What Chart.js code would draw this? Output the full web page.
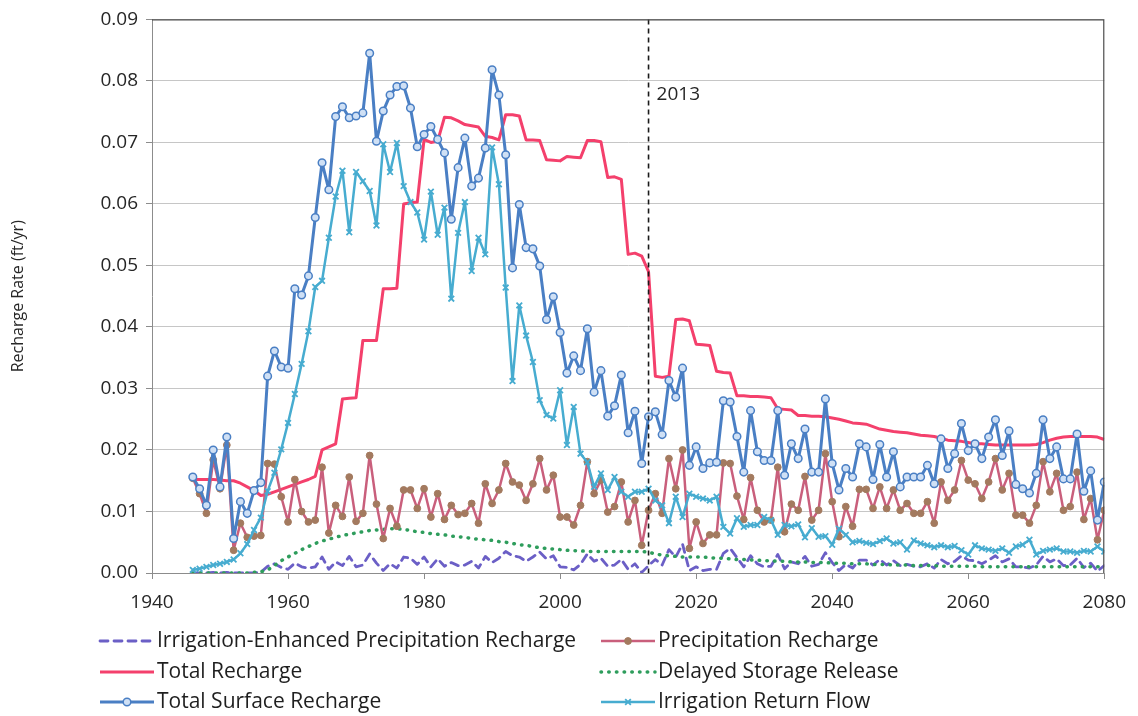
<!DOCTYPE html>
<html>
<head>
<meta charset="utf-8">
<script src="https://cdn.jsdelivr.net/npm/chart.js@4.4.1/dist/chart.umd.min.js"></script>
<style>
  html, body { margin: 0; padding: 0; background: #fff; }
</style>
</head>
<body>
<canvas id="myChart" width="1138" height="716"></canvas>
<script>
// years 1946 - 2080, one value per year (ft/yr)
var firstYear = 1946;
var lastYear = 2080;
var years = [];
for (var yr = firstYear; yr <= lastYear; yr++) years.push(yr);

var xTickValues = [1940, 1960, 1980, 2000, 2020, 2040, 2060, 2080];
var yTickValues = [0, 0.01, 0.02, 0.03, 0.04, 0.05, 0.06, 0.07, 0.08, 0.09];
var markYear = 2013;

var seriesNames = [
  'Irrigation-Enhanced Precipitation Recharge',
  'Precipitation Recharge',
  'Total Recharge',
  'Delayed Storage Release',
  'Total Surface Recharge',
  'Irrigation Return Flow'
];

var irrigEnhanced = [
  0.0000, 0.0000, 0.0000, 0.0001, 0.0000, 0.0001, 0.0000, 0.0000, 0.0000, 0.0000,
  0.0001, 0.0011, 0.0015, 0.0009, 0.0006, 0.0016, 0.0010, 0.0008, 0.0010, 0.0026,
  0.0006, 0.0018, 0.0012, 0.0027, 0.0010, 0.0013, 0.0031, 0.0016, 0.0004, 0.0015,
  0.0008, 0.0026, 0.0024, 0.0014, 0.0026, 0.0010, 0.0023, 0.0011, 0.0017, 0.0012,
  0.0013, 0.0019, 0.0008, 0.0027, 0.0017, 0.0024, 0.0035, 0.0028, 0.0026, 0.0019,
  0.0026, 0.0034, 0.0023, 0.0028, 0.0010, 0.0009, 0.0005, 0.0014, 0.0031, 0.0019,
  0.0024, 0.0011, 0.0013, 0.0022, 0.0006, 0.0015, 0.0001, 0.0012, 0.0022, 0.0013,
  0.0038, 0.0026, 0.0047, 0.0004, 0.0010, 0.0004, 0.0006, 0.0006, 0.0032, 0.0040,
  0.0025, 0.0010, 0.0028, 0.0015, 0.0010, 0.0011, 0.0030, 0.0007, 0.0018, 0.0015,
  0.0027, 0.0011, 0.0014, 0.0033, 0.0017, 0.0004, 0.0014, 0.0008, 0.0021, 0.0021,
  0.0013, 0.0022, 0.0013, 0.0020, 0.0012, 0.0014, 0.0011, 0.0010, 0.0015, 0.0008,
  0.0022, 0.0015, 0.0019, 0.0028, 0.0021, 0.0020, 0.0015, 0.0021, 0.0028, 0.0018,
  0.0023, 0.0010, 0.0010, 0.0008, 0.0013, 0.0027, 0.0018, 0.0023, 0.0012, 0.0013,
  0.0024, 0.0009, 0.0016, 0.0003, 0.0012
];

var precipRecharge = [
  0.0154, 0.0129, 0.0097, 0.0184, 0.0137, 0.0208, 0.0037, 0.0081, 0.0058, 0.0060,
  0.0061, 0.0178, 0.0177, 0.0124, 0.0083, 0.0152, 0.0100, 0.0083, 0.0086, 0.0172,
  0.0065, 0.0110, 0.0092, 0.0156, 0.0084, 0.0097, 0.0191, 0.0112, 0.0056, 0.0105,
  0.0076, 0.0135, 0.0135, 0.0105, 0.0137, 0.0091, 0.0129, 0.0087, 0.0110, 0.0095,
  0.0097, 0.0113, 0.0081, 0.0145, 0.0113, 0.0135, 0.0178, 0.0148, 0.0143, 0.0118,
  0.0145, 0.0186, 0.0135, 0.0159, 0.0091, 0.0091, 0.0078, 0.0110, 0.0181, 0.0129,
  0.0151, 0.0099, 0.0108, 0.0148, 0.0083, 0.0118, 0.0045, 0.0102, 0.0129, 0.0097,
  0.0186, 0.0137, 0.0200, 0.0040, 0.0083, 0.0048, 0.0062, 0.0062, 0.0179, 0.0178,
  0.0125, 0.0087, 0.0155, 0.0102, 0.0083, 0.0086, 0.0172, 0.0067, 0.0112, 0.0102,
  0.0157, 0.0086, 0.0102, 0.0194, 0.0116, 0.0059, 0.0108, 0.0076, 0.0136, 0.0136,
  0.0105, 0.0140, 0.0105, 0.0135, 0.0102, 0.0113, 0.0097, 0.0097, 0.0116, 0.0081,
  0.0148, 0.0118, 0.0135, 0.0183, 0.0151, 0.0145, 0.0121, 0.0148, 0.0186, 0.0135,
  0.0162, 0.0094, 0.0094, 0.0081, 0.0110, 0.0181, 0.0132, 0.0162, 0.0102, 0.0108,
  0.0164, 0.0087, 0.0121, 0.0054, 0.0102
];

var totalRecharge = [
  0.0152, 0.0152, 0.0152, 0.0152, 0.0151, 0.0150, 0.0150, 0.0146, 0.0140, 0.0134,
  0.0126, 0.0128, 0.0132, 0.0136, 0.0140, 0.0144, 0.0148, 0.0152, 0.0157, 0.0200,
  0.0205, 0.0210, 0.0283, 0.0284, 0.0285, 0.0378, 0.0378, 0.0378, 0.0462, 0.0462,
  0.0463, 0.0600, 0.0602, 0.0603, 0.0705, 0.0700, 0.0702, 0.0741, 0.0740, 0.0735,
  0.0729, 0.0727, 0.0725, 0.0710, 0.0708, 0.0704, 0.0745, 0.0745, 0.0743, 0.0704,
  0.0704, 0.0703, 0.0672, 0.0671, 0.0670, 0.0677, 0.0676, 0.0675, 0.0703, 0.0703,
  0.0701, 0.0643, 0.0644, 0.0640, 0.0518, 0.0520, 0.0515, 0.0490, 0.0320, 0.0318,
  0.0320, 0.0412, 0.0413, 0.0410, 0.0372, 0.0371, 0.0370, 0.0328, 0.0326, 0.0325,
  0.0288, 0.0288, 0.0287, 0.0287, 0.0286, 0.0285, 0.0267, 0.0266, 0.0265, 0.0256,
  0.0256, 0.0255, 0.0255, 0.0254, 0.0252, 0.0250, 0.0247, 0.0244, 0.0243, 0.0242,
  0.0238, 0.0234, 0.0232, 0.0230, 0.0229, 0.0228, 0.0226, 0.0224, 0.0223, 0.0222,
  0.0219, 0.0216, 0.0215, 0.0214, 0.0212, 0.0210, 0.0210, 0.0209, 0.0208, 0.0208,
  0.0208, 0.0208, 0.0208, 0.0208, 0.0209, 0.0212, 0.0216, 0.0219, 0.0221, 0.0222,
  0.0222, 0.0222, 0.0222, 0.0221, 0.0217
];

var delayedStorage = [
  0.0000, 0.0000, 0.0000, 0.0000, 0.0000, 0.0000, 0.0000, 0.0000, 0.0000, 0.0001,
  0.0002, 0.0005, 0.0012, 0.0020, 0.0026, 0.0032, 0.0038, 0.0043, 0.0048, 0.0052,
  0.0055, 0.0058, 0.0061, 0.0063, 0.0065, 0.0067, 0.0069, 0.0070, 0.0071, 0.0072,
  0.0072, 0.0071, 0.0069, 0.0067, 0.0066, 0.0064, 0.0063, 0.0062, 0.0060, 0.0059,
  0.0058, 0.0056, 0.0055, 0.0054, 0.0053, 0.0051, 0.0050, 0.0048, 0.0046, 0.0045,
  0.0043, 0.0041, 0.0040, 0.0039, 0.0038, 0.0037, 0.0036, 0.0036, 0.0035, 0.0035,
  0.0035, 0.0035, 0.0035, 0.0035, 0.0035, 0.0035, 0.0035, 0.0034, 0.0031, 0.0029,
  0.0028, 0.0027, 0.0026, 0.0026, 0.0026, 0.0026, 0.0025, 0.0024, 0.0024, 0.0023,
  0.0022, 0.0022, 0.0021, 0.0021, 0.0020, 0.0020, 0.0019, 0.0019, 0.0018, 0.0018,
  0.0018, 0.0017, 0.0017, 0.0017, 0.0016, 0.0016, 0.0016, 0.0015, 0.0015, 0.0015,
  0.0014, 0.0014, 0.0014, 0.0013, 0.0013, 0.0013, 0.0012, 0.0012, 0.0012, 0.0012,
  0.0011, 0.0011, 0.0011, 0.0011, 0.0011, 0.0011, 0.0010, 0.0010, 0.0010, 0.0010,
  0.0010, 0.0010, 0.0010, 0.0010, 0.0010, 0.0010, 0.0010, 0.0010, 0.0010, 0.0010,
  0.0010, 0.0010, 0.0010, 0.0010, 0.0010
];

var totalSurface = [
  0.0156, 0.0137, 0.0110, 0.0200, 0.0140, 0.0221, 0.0056, 0.0116, 0.0097, 0.0134,
  0.0147, 0.0320, 0.0361, 0.0335, 0.0333, 0.0462, 0.0452, 0.0483, 0.0578, 0.0667,
  0.0623, 0.0742, 0.0758, 0.0740, 0.0743, 0.0748, 0.0845, 0.0702, 0.0751, 0.0777,
  0.0791, 0.0792, 0.0756, 0.0693, 0.0713, 0.0726, 0.0705, 0.0683, 0.0575, 0.0659,
  0.0707, 0.0629, 0.0642, 0.0691, 0.0818, 0.0777, 0.0680, 0.0496, 0.0599, 0.0529,
  0.0527, 0.0499, 0.0412, 0.0449, 0.0391, 0.0325, 0.0353, 0.0329, 0.0397, 0.0294,
  0.0329, 0.0255, 0.0272, 0.0322, 0.0228, 0.0263, 0.0178, 0.0254, 0.0262, 0.0225,
  0.0313, 0.0286, 0.0333, 0.0175, 0.0205, 0.0170, 0.0179, 0.0180, 0.0280, 0.0278,
  0.0222, 0.0164, 0.0264, 0.0197, 0.0183, 0.0183, 0.0264, 0.0159, 0.0210, 0.0186,
  0.0234, 0.0164, 0.0164, 0.0283, 0.0178, 0.0135, 0.0170, 0.0156, 0.0210, 0.0205,
  0.0152, 0.0209, 0.0156, 0.0197, 0.0140, 0.0156, 0.0156, 0.0156, 0.0175, 0.0145,
  0.0218, 0.0170, 0.0194, 0.0243, 0.0199, 0.0210, 0.0186, 0.0221, 0.0249, 0.0191,
  0.0231, 0.0144, 0.0137, 0.0130, 0.0162, 0.0249, 0.0186, 0.0205, 0.0153, 0.0153,
  0.0226, 0.0133, 0.0166, 0.0086, 0.0148
];

var returnFlow = [
  0.0005, 0.0007, 0.0010, 0.0013, 0.0015, 0.0018, 0.0022, 0.0032, 0.0047, 0.0070,
  0.0090, 0.0133, 0.0163, 0.0201, 0.0244, 0.0291, 0.0340, 0.0393, 0.0465, 0.0475,
  0.0545, 0.0612, 0.0654, 0.0554, 0.0652, 0.0637, 0.0621, 0.0565, 0.0697, 0.0652,
  0.0699, 0.0629, 0.0603, 0.0586, 0.0542, 0.0620, 0.0550, 0.0594, 0.0446, 0.0553,
  0.0603, 0.0491, 0.0545, 0.0518, 0.0692, 0.0632, 0.0464, 0.0312, 0.0435, 0.0386,
  0.0343, 0.0281, 0.0257, 0.0251, 0.0297, 0.0208, 0.0270, 0.0194, 0.0180, 0.0140,
  0.0162, 0.0135, 0.0156, 0.0132, 0.0124, 0.0132, 0.0132, 0.0137, 0.0118, 0.0110,
  0.0081, 0.0124, 0.0091, 0.0129, 0.0124, 0.0121, 0.0118, 0.0124, 0.0075, 0.0064,
  0.0089, 0.0075, 0.0078, 0.0078, 0.0091, 0.0086, 0.0062, 0.0078, 0.0076, 0.0079,
  0.0058, 0.0073, 0.0059, 0.0060, 0.0046, 0.0072, 0.0062, 0.0050, 0.0052, 0.0049,
  0.0047, 0.0052, 0.0056, 0.0048, 0.0050, 0.0038, 0.0053, 0.0048, 0.0045, 0.0042,
  0.0045, 0.0042, 0.0044, 0.0037, 0.0030, 0.0045, 0.0040, 0.0038, 0.0036, 0.0040,
  0.0033, 0.0043, 0.0046, 0.0054, 0.0030, 0.0036, 0.0038, 0.0040, 0.0035, 0.0035,
  0.0033, 0.0036, 0.0035, 0.0043, 0.0035
];

var fontFamily = '"Open Sans", "Noto Sans", sans-serif';

function toPoints(values) {
  return values.map(function (v, i) { return { x: years[i], y: v }; });
}

// frame, 2013 marker line and the two-column legend under the axis
var extras = {
  id: 'extras',
  afterDatasetsDraw: function (chart) {
    var c = chart.ctx, a = chart.chartArea;
    var px = chart.scales.x.getPixelForValue(markYear);
    c.save();
    c.strokeStyle = '#1a1a1a';
    c.lineWidth = 1.6;
    c.setLineDash([5, 4]);
    c.beginPath();
    c.moveTo(px, a.top);
    c.lineTo(px, a.bottom);
    c.stroke();
    c.setLineDash([]);
    c.fillStyle = '#262626';
    c.font = '19px ' + fontFamily;
    c.textBaseline = 'middle';
    c.textAlign = 'left';
    c.fillText(String(markYear), px + 8, 95);

    // box around plot area (top/right)
    c.strokeStyle = '#4d4d4d';
    c.lineWidth = 1.2;
    c.beginPath();
    c.moveTo(a.left, a.top + 0.5);
    c.lineTo(a.right - 0.5, a.top + 0.5);
    c.lineTo(a.right - 0.5, a.bottom);
    c.stroke();
    c.restore();
  },
  afterDraw: function (chart) {
    var c = chart.ctx;
    var colX = [100, 601];
    var rowY = [641, 672, 702];
    var sampleLen = 54;
    c.save();
    c.font = '21px ' + fontFamily;
    c.textBaseline = 'middle';
    c.textAlign = 'left';
    chart.data.datasets.forEach(function (ds) {
      var x0 = colX[ds.slot[0]], y = rowY[ds.slot[1]];
      c.strokeStyle = ds.borderColor;
      c.lineWidth = ds.borderWidth;
      c.lineCap = ds.borderCapStyle || 'butt';
      c.setLineDash(ds.borderDash || []);
      c.beginPath();
      c.moveTo(x0, y);
      c.lineTo(x0 + sampleLen, y);
      c.stroke();
      c.setLineDash([]);
      var cx = x0 + sampleLen / 2;
      if (ds.pointRadius > 0) {
        c.lineWidth = ds.pointBorderWidth;
        c.strokeStyle = ds.pointBorderColor;
        c.fillStyle = ds.pointBackgroundColor;
        var r = ds.pointRadius;
        if (ds.pointStyle === 'crossRot') {
          c.beginPath();
          c.moveTo(cx - r * 0.7, y - r * 0.7); c.lineTo(cx + r * 0.7, y + r * 0.7);
          c.moveTo(cx + r * 0.7, y - r * 0.7); c.lineTo(cx - r * 0.7, y + r * 0.7);
          c.stroke();
        } else {
          c.beginPath();
          c.arc(cx, y, r, 0, Math.PI * 2);
          c.fill();
          c.stroke();
        }
      }
      c.fillStyle = '#1f1f1f';
      c.fillText(ds.label, x0 + sampleLen + 3, y);
    });
    c.restore();
  }
};

var ctx = document.getElementById('myChart').getContext('2d');
var chart = new Chart(ctx, {
    type: 'line',

    data: {
        datasets: [{
            label: seriesNames[5],
            slot: [1, 2],
            order: 1,
            data: toPoints(returnFlow),
            borderColor: '#47acd0',
            borderWidth: 2.5,
            pointStyle: 'crossRot',
            pointRadius: 4,
            pointBorderWidth: 1.8,
            pointBorderColor: '#47acd0',
            pointBackgroundColor: '#47acd0'
        }, {
            label: seriesNames[4],
            slot: [0, 2],
            order: 2,
            data: toPoints(totalSurface),
            borderColor: '#4a7fc4',
            borderWidth: 3,
            pointStyle: 'circle',
            pointRadius: 3.8,
            pointBorderWidth: 1.5,
            pointBorderColor: '#4a7fc4',
            pointBackgroundColor: '#cfe0f5'
        }, {
            label: seriesNames[1],
            slot: [1, 0],
            order: 3,
            data: toPoints(precipRecharge),
            borderColor: '#c95f7c',
            borderWidth: 2.5,
            pointStyle: 'circle',
            pointRadius: 3.4,
            pointBorderWidth: 1,
            pointBorderColor: '#a37a5f',
            pointBackgroundColor: '#a37a5f'
        }, {
            label: seriesNames[2],
            slot: [0, 1],
            order: 4,
            data: toPoints(totalRecharge),
            borderColor: '#f4406c',
            borderWidth: 3,
            pointRadius: 0
        }, {
            label: seriesNames[3],
            slot: [1, 1],
            order: 5,
            data: toPoints(delayedStorage),
            borderColor: '#2e9d5c',
            borderWidth: 3.5,
            borderDash: [0.5, 7.2],
            borderCapStyle: 'round',
            pointRadius: 0
        }, {
            label: seriesNames[0],
            slot: [0, 0],
            order: 6,
            data: toPoints(irrigEnhanced),
            borderColor: '#6b5fc6',
            borderWidth: 2.8,
            borderDash: [8, 6],
            borderCapStyle: 'round',
            pointRadius: 0
        }]
    },

    options: {
        responsive: false,
        animation: false,
        layout: { padding: { top: 18, right: 28, bottom: 0, left: 0 } },
        elements: { line: { tension: 0, borderJoinStyle: 'round' } },
        plugins: { legend: { display: false }, tooltip: { enabled: false } },
        scales: {
            x: {
                type: 'linear',
                min: 1940,
                max: 2080,
                afterBuildTicks: function (s) { s.ticks = xTickValues.map(function (v) { return { value: v }; }); },
                afterFit: function (s) { s.height = 143; },
                grid: { drawOnChartArea: false, tickLength: 6, color: '#8c8c8c' },
                border: { color: '#8c8c8c', width: 1 },
                ticks: {
                    padding: 12, maxRotation: 0, color: '#262626',
                    font: { family: fontFamily, size: 19 },
                    callback: function (v) { return String(v); }
                }
            },
            y: {
                min: 0,
                max: 0.09,
                afterBuildTicks: function (s) { s.ticks = yTickValues.map(function (v) { return { value: v }; }); },
                afterFit: function (s) { s.width = 152; },
                grid: { color: '#c6c6c6', tickLength: 6, tickColor: '#8c8c8c' },
                border: { color: '#8c8c8c', width: 1 },
                ticks: {
                    padding: 8, color: '#262626',
                    font: { family: fontFamily, size: 19 },
                    callback: function (v) { return v.toFixed(2); }
                },
                title: {
                    display: true,
                    text: 'Recharge Rate (ft/yr)',
                    color: '#262626',
                    font: { family: fontFamily, size: 16 },
                    padding: { top: 9, bottom: 0 }
                }
            }
        }
    },
    plugins: [extras]
});
</script>
</body>
</html>
